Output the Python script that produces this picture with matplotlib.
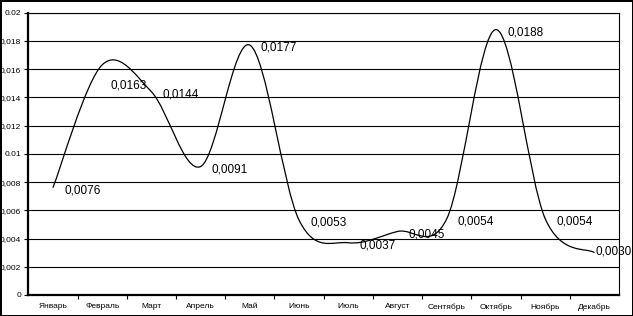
import matplotlib.pyplot as plt
import numpy as np
from matplotlib.path import Path
from matplotlib.patches import PathPatch

months = ['Январь', 'Февраль', 'Март', 'Апрель', 'Май', 'Июнь',
          'Июль', 'Август', 'Сентябрь', 'Октябрь', 'Ноябрь', 'Декабрь']
values = [0.0076, 0.0163, 0.0144, 0.0091, 0.0177, 0.0053,
          0.0037, 0.0045, 0.0054, 0.0188, 0.0054, 0.0030]
labels = ['0,0076', '0,0163', '0,0144', '0,0091', '0,0177', '0,0053',
          '0,0037', '0,0045', '0,0054', '0,0188', '0,0054', '0,0030']
yticks = [0, 0.002, 0.004, 0.006, 0.008, 0.01, 0.012, 0.014, 0.016, 0.018, 0.02]
ytick_labels = ['0', '0,002', '0,004', '0,006', '0,008', '0.01',
                '0,012', '0,014', '0,016', '0,018', '0.02']

plt.rcParams['font.family'] = ['Liberation Sans', 'DejaVu Sans']

fig = plt.figure(figsize=(6.33, 3.16), dpi=100)
fig.patch.set_edgecolor('black')
fig.patch.set_linewidth(2)
ax = fig.add_axes([0.0447, 0.0665, 0.9333, 0.8935])

# сглаженная линия (как в Excel) - кубические кривые Безье
x = np.arange(len(values))
y = np.array(values)
pts = list(zip(x, y))
verts = [pts[0]]
codes = [Path.MOVETO]
n = len(pts)
for i in range(n - 1):
    p0 = np.array(pts[max(i - 1, 0)])
    p1 = np.array(pts[i])
    p2 = np.array(pts[i + 1])
    p3 = np.array(pts[min(i + 2, n - 1)])
    c1 = p1 + (p2 - p0) / 6
    c2 = p2 - (p3 - p1) / 6
    verts += [tuple(c1), tuple(c2), tuple(p2)]
    codes += [Path.CURVE4] * 3
ax.add_patch(PathPatch(Path(verts, codes), facecolor='none',
                       edgecolor='black', lw=0.9, zorder=3))

# подписи значений
offsets = {1: (6, -15), 11: (1, 1)}
for i, (v, t) in enumerate(zip(values, labels)):
    dx, dy = offsets.get(i, (8, -2))
    ax.annotate(t, (i, v), xytext=(dx, dy), textcoords='offset points',
                ha='left', va='center', fontsize=8.5, zorder=4,
                annotation_clip=False)

ax.set_xlim(-0.5, len(months) - 0.5)
ax.set_ylim(0, 0.02)
ax.set_yticks(yticks)
ax.set_yticklabels(ytick_labels, fontsize=6)
ax.set_xticks(x)
ax.set_xticklabels(months, fontsize=6)
ax.set_xticks(np.arange(0.5, len(months) - 1, 1), minor=True)
ax.tick_params(axis='x', which='major', length=0, pad=6)
ax.tick_params(axis='x', which='minor', length=3, width=0.8, direction='out')
ax.tick_params(axis='y', length=3, width=0.8, direction='out', pad=2)
ax.yaxis.grid(True, color='black', lw=0.8)
ax.set_axisbelow(True)
for s in ['left', 'bottom']:
    ax.spines[s].set_linewidth(1.6)
for s in ['right', 'top']:
    ax.spines[s].set_linewidth(0.8)

fig.savefig('out.png', dpi=100)
